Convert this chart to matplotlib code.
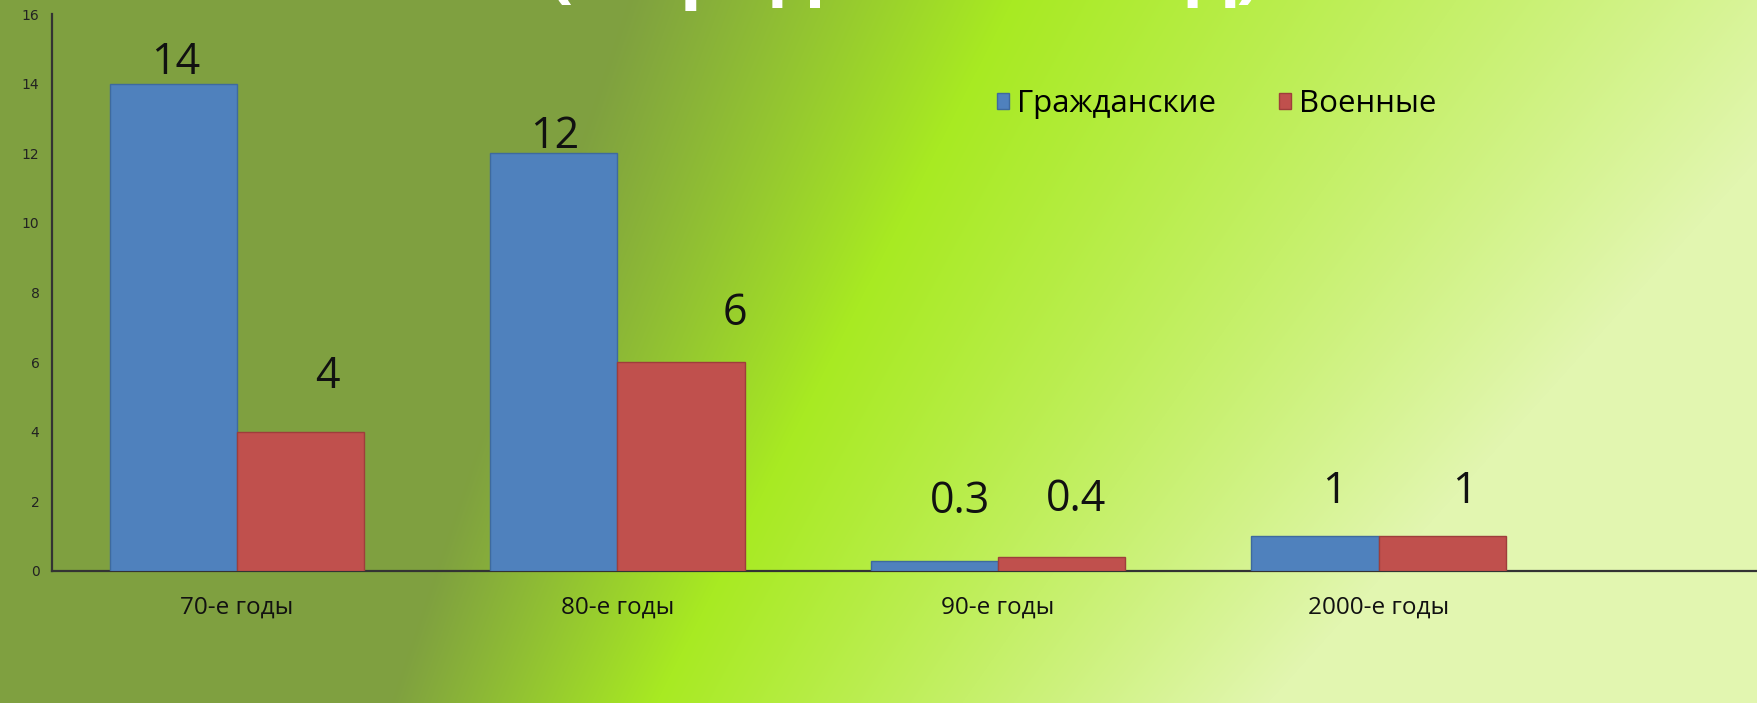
import numpy as np
import matplotlib
matplotlib.use("Agg")
import matplotlib.pyplot as plt
from matplotlib.colors import to_rgb

# ---- data ----
categories = ["70-е годы", "80-е годы", "90-е годы", "2000-е годы"]
civil = [14, 12, 0.3, 1]
military = [4, 6, 0.4, 1]
series_names = ["Гражданские", "Военные"]
yticks = [0, 2, 4, 6, 8, 10, 12, 14, 16]
title_text = "(в среднем за год)"

# ---- style ----
plt.rcParams['font.family'] = ['Open Sans', 'DejaVu Sans']
W, H = 1758, 703
blue, red = '#4F81BD', '#C0504D'
civil_offsets = [(2, 21), (1, 17), (26, 59), (19, 44)]      # label offsets (px)
military_offsets = [(27, 55), (54, 48), (14, 57), (22, 44)]

fig = plt.figure(figsize=(W / 100, H / 100), dpi=100)

# background gradient
bg = fig.add_axes([0, 0, 1, 1], zorder=0)
ys = np.arange(H, dtype=float)[:, None]
xs = np.arange(W, dtype=float)[None, :]
e0 = 628 - 0.338 * ys
e1 = 1012 - 0.507 * ys
e2 = 1900 - 0.9 * ys
c_olive = np.array(to_rgb('#7FA040'))
c_bright = np.array(to_rgb('#A8EA22'))
c_light = np.array(to_rgb('#E2F6B0'))
f1 = np.clip((xs - e0) / (e1 - e0), 0, 1)[..., None]
f2 = np.clip((xs - e1) / (e2 - e1), 0, 1)[..., None]
left = c_olive + f1 * (c_bright - c_olive)
right = c_bright + f2 * (c_light - c_bright)
img = np.where((xs < e1)[..., None], left, right)
bg.imshow(img, extent=[0, W, H, 0], aspect='auto', interpolation='bilinear')
bg.set_xlim(0, W)
bg.set_ylim(H, 0)
bg.axis('off')

# main axes
ax = fig.add_axes([52 / W, 132 / H, 1 - 52 / W, 557 / H], zorder=1)
ax.patch.set_alpha(0)
x = np.arange(len(categories))
w = 0.334
b1 = ax.bar(x - w / 2, civil, w, color=blue, edgecolor='#3E6A9E', linewidth=1, zorder=3)
b2 = ax.bar(x + w / 2, military, w, color=red, edgecolor='#9E3E3B', linewidth=1, zorder=3)
ax.set_xlim(-0.486, 3.997)
ax.set_ylim(0, 16)

for s in ['top', 'right']:
    ax.spines[s].set_visible(False)
for s in ['left', 'bottom']:
    ax.spines[s].set_color('#333333')
    ax.spines[s].set_linewidth(1.6)

ax.set_yticks(yticks)
ax.set_yticklabels([str(t) for t in yticks], family='DejaVu Sans')
ax.tick_params(axis='y', length=0, pad=9, labelsize=10, colors='#222222')
ax.set_xticks(x)
ax.set_xticklabels(categories)
ax.tick_params(axis='x', length=0, pad=18, labelsize=17.5, colors='#111111')

for bars, vals, offs in [(b1, civil, civil_offsets), (b2, military, military_offsets)]:
    for rect, v, (dx, dy) in zip(bars, vals, offs):
        ax.annotate(f"{v:g}", xy=(rect.get_x() + rect.get_width() / 2, v),
                    xytext=(dx, dy), textcoords='offset pixels',
                    ha='center', va='center', fontsize=31, color='#111111')

fig.legend([b1, b2], series_names, loc='center left',
           bbox_to_anchor=(997 / W, 1 - 104 / H), ncol=2, frameon=False,
           fontsize=22.5, handlelength=0.4, handleheight=0.4, handletextpad=0.25,
           columnspacing=2.0, borderpad=0, borderaxespad=0)

fig.text(905 / W, 1 + 7 / H, title_text, ha='center', va='baseline',
         fontsize=54, fontweight='bold', color='white')

fig.savefig('out.png', dpi=100)
